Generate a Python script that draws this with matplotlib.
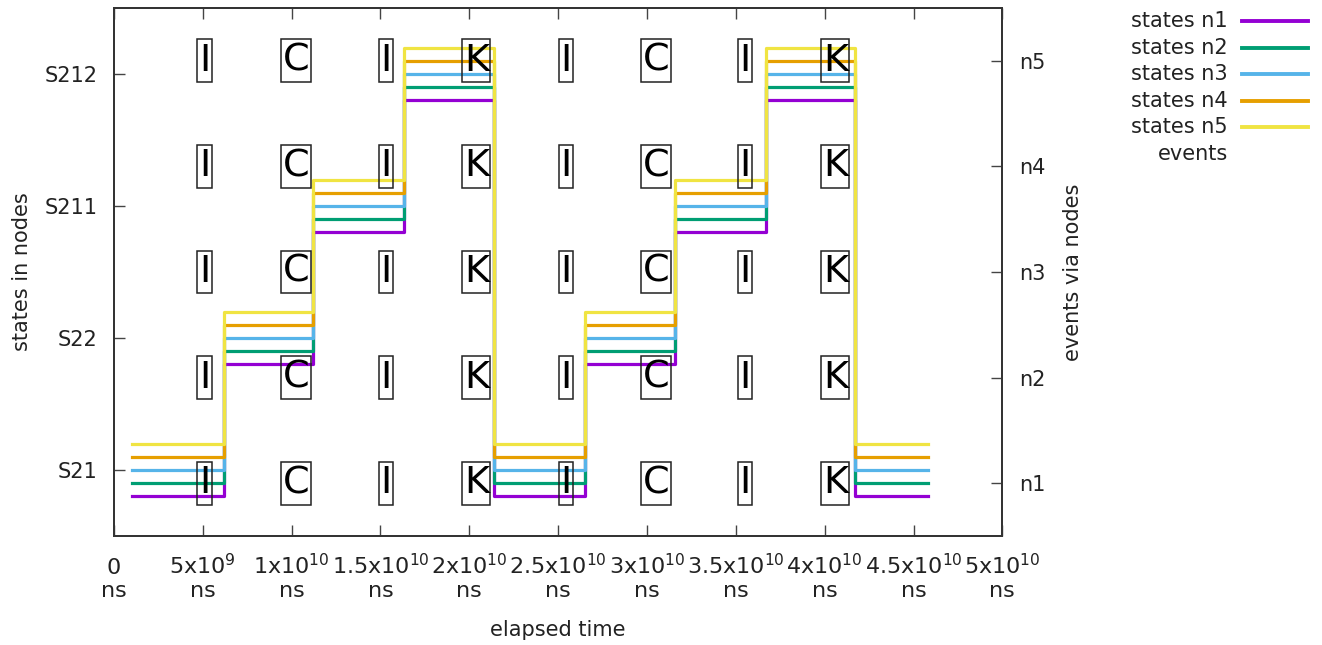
import matplotlib.pyplot as plt
from matplotlib.lines import Line2D
from matplotlib.path import Path
import numpy as np

# state changes (same times for every node)
step_times = [1.0e9, 6.2e9, 11.2e9, 16.3e9, 21.4e9, 26.5e9, 31.6e9, 36.7e9, 41.7e9, 45.8e9]
state_levels = [1, 2, 3, 4, 1, 2, 3, 4, 1, 1]
state_names = ['S21', 'S22', 'S211', 'S212']

node_names = ['n1', 'n2', 'n3', 'n4', 'n5']
node_colors = ['#9400d3', '#009e73', '#56b4e9', '#e69f00', '#f0e442']

# events seen by every node
event_times = [5.1e9, 10.25e9, 15.3e9, 20.4e9, 25.45e9, 30.5e9, 35.5e9, 40.6e9]
event_labels = ['I', 'C', 'I', 'K', 'I', 'C', 'I', 'K']

xtick_values = [0, 5e9, 1e10, 1.5e10, 2e10, 2.5e10, 3e10, 3.5e10, 4e10, 4.5e10, 5e10]
xtick_labels = ['0', '5x10$^{9}$', '1x10$^{10}$', '1.5x10$^{10}$', '2x10$^{10}$',
                '2.5x10$^{10}$', '3x10$^{10}$', '3.5x10$^{10}$', '4x10$^{10}$',
                '4.5x10$^{10}$', '5x10$^{10}$']

fs = 15
txtcol = '#222222'
plt.rcParams['mathtext.default'] = 'regular'


def label_box(x0, y0, width, height, mutation_size):
    # gnuplot boxed label: tight sides, a bit more room above/below
    px = 0.04 * mutation_size
    py = 0.09 * mutation_size
    x0, x1 = x0 - px, x0 + width + px
    y0, y1 = y0 - py, y0 + height + py
    return Path([(x0, y0), (x1, y0), (x1, y1), (x0, y1), (x0, y0)],
                [Path.MOVETO, Path.LINETO, Path.LINETO, Path.LINETO, Path.CLOSEPOLY])


fig = plt.figure(figsize=(13.22, 6.45), dpi=100)
ax = fig.add_axes([0.0862, 0.169, 0.672, 0.8186])
ax2 = ax.twinx()

for i, (name, col) in enumerate(zip(node_names, node_colors)):
    y = np.array(state_levels) + (i - 2) * 0.1
    ax.plot(step_times, y, drawstyle='steps-post', color=col, lw=2.3)

for t, lab in zip(event_times, event_labels):
    for k in range(1, len(node_names) + 1):
        ax2.text(t, k, lab, ha='center', va='center', fontsize=27.5, color='black',
                 bbox=dict(boxstyle=label_box, fc='none', ec='#222222', lw=1.1))

ax.set_xlim(0, 5e10)
ax.set_ylim(0.5, 4.5)
ax2.set_ylim(0.5, 5.5)

ax.set_xticks(xtick_values)
ax.set_xticklabels([l + '\nns' for l in xtick_labels], fontsize=16, color=txtcol,
                   linespacing=1.2, va='baseline')
ax.set_yticks(range(1, len(state_names) + 1))
ax.set_yticklabels(state_names, fontsize=fs, color=txtcol)
ax2.set_yticks(range(1, len(node_names) + 1))
ax2.set_yticklabels(node_names, fontsize=fs, color=txtcol)

ax.tick_params(axis='x', direction='in', length=8, width=1, top=True, pad=44, colors='#444444', labelcolor=txtcol)
ax.tick_params(axis='y', direction='in', length=8, width=1, right=False, pad=12, colors='#444444', labelcolor=txtcol)
ax2.tick_params(axis='y', direction='in', length=8, width=1, pad=12, colors='#444444', labelcolor=txtcol)

for a in (ax, ax2):
    for s in a.spines.values():
        s.set_linewidth(1.3)
        s.set_color('#333333')

ax.set_ylabel('states in nodes', fontsize=fs, color=txtcol, va='center')
ax.yaxis.set_label_coords(-0.104, 0.5)
ax2.set_ylabel('events via nodes', fontsize=fs, color=txtcol, va='center', rotation=90)
ax2.yaxis.set_label_coords(1.079, 0.5)
ax.set_xlabel('elapsed time', fontsize=fs, color=txtcol, va='center')
ax.xaxis.set_label_coords(0.5, -0.178)

# gnuplot-style key, outside at top right
W, H = 1322, 645
key_rows = ['states ' + n for n in node_names] + ['events']
for j, lab in enumerate(key_rows):
    ypx = 21 + j * 26.6
    fig.text(1228 / W, 1 - ypx / H, lab, ha='right', va='center', fontsize=fs, color=txtcol)
    if j < len(node_colors):
        fig.add_artist(Line2D([1242 / W, 1308 / W], [1 - ypx / H, 1 - ypx / H],
                              color=node_colors[j], lw=2.8, transform=fig.transFigure))

fig.savefig('out.png', dpi=100)
